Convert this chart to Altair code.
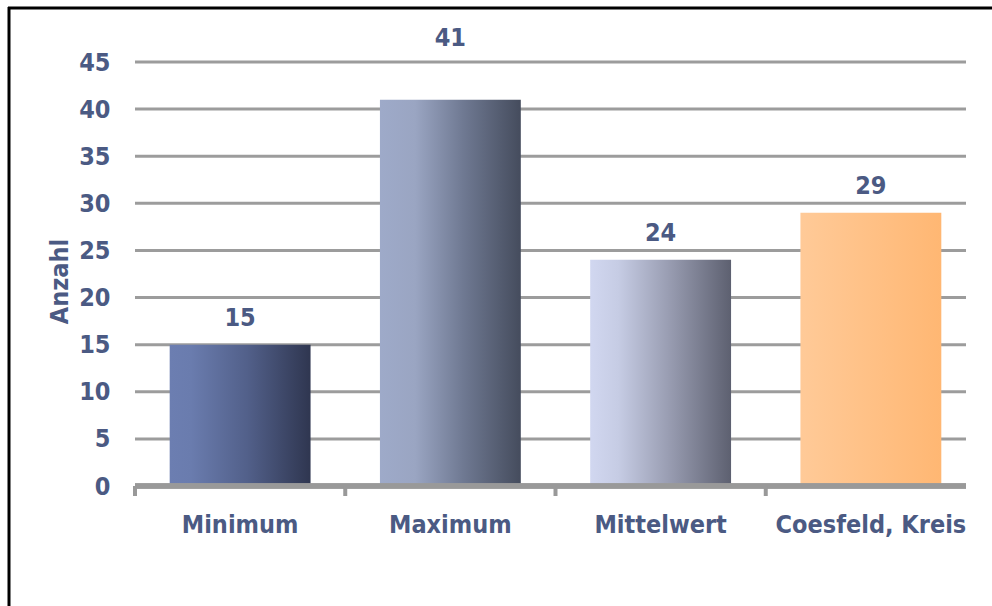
import altair as alt
import pandas as pd

# Chart data
categories = ["Minimum", "Maximum", "Mittelwert", "Coesfeld, Kreis"]
values = [15, 41, 24, 29]
y_ticks = [0, 5, 10, 15, 20, 25, 30, 35, 40, 45]

# Horizontal gradient fill for each bar (left -> right)
bar_stops = {
    "Minimum": [("#6c7eb1", 0.0), ("#6a7cae", 0.15), ("#52608a", 0.55), ("#2f3650", 1.0)],
    "Maximum": [("#9eaac9", 0.0), ("#9aa5c2", 0.25), ("#6e7891", 0.6), ("#454c5d", 1.0)],
    "Mittelwert": [("#d1d7f0", 0.0), ("#c6cce4", 0.2), ("#9a9eb3", 0.55), ("#5d6070", 1.0)],
    "Coesfeld, Kreis": [("#ffca98", 0.0), ("#ffb773", 1.0)],
}

df = pd.DataFrame({"kategorie": categories, "anzahl": values})
grid_df = pd.DataFrame({"anzahl": y_ticks})

TEXT = "#4b5a83"
FONT = "DejaVu Sans Condensed"
FS = 25
PLOT_W, PLOT_H = 831, 424
PAD = {"left": 135, "top": 62, "right": 26, "bottom": 120}

x_scale = alt.Scale(domain=categories, range=[0, 841], paddingInner=0, paddingOuter=0)
y_scale = alt.Scale(domain=[0, 45], nice=False, zero=True)

x_axis = alt.Axis(
    domain=False, ticks=False, grid=False, labelAngle=0, labelLimit=400,
    labelFont=FONT, labelFontSize=FS, labelFontWeight="bold", labelColor=TEXT,
    labelPadding=26, labelBaseline="top",
)
y_axis = alt.Axis(
    values=y_ticks, domain=False, ticks=False, grid=False,
    labelFont=FONT, labelFontSize=FS, labelFontWeight="bold", labelColor=TEXT,
    labelPadding=25,
    title="Anzahl", titleFont=FONT, titleFontSize=FS, titleFontWeight="bold",
    titleColor=TEXT, titleX=-63, titleY=219,
)

x_enc = alt.X("kategorie:N", sort=categories, scale=x_scale, title=None, axis=x_axis)
y_enc = alt.Y("anzahl:Q", scale=y_scale, axis=y_axis)

base = alt.Chart(df)

# Horizontal gridlines across the plot width
grid = alt.Chart(grid_df).mark_rule(color="#9c9c9c", strokeWidth=3).encode(y=y_enc)

# One bar layer per category so each gets its own gradient
bar_layers = []
for cat in categories:
    grad = alt.Gradient(
        gradient="linear",
        stops=[alt.GradientStop(color=c, offset=o) for c, o in bar_stops[cat]],
        x1=0, x2=1, y1=0, y2=0,
    )
    bar_layers.append(
        base.transform_filter(alt.datum.kategorie == cat)
        .mark_bar(color=grad, width=alt.RelativeBandSize(0.67))
        .encode(x=x_enc, y=y_enc)
    )

# Category axis baseline and separator ticks
baseline = base.mark_rule(color="#999999", strokeWidth=5).encode(y=alt.datum(0))
sep_ticks = base.mark_rule(color="#999999", strokeWidth=4).encode(
    x=alt.X("kategorie:N", sort=categories, scale=x_scale, bandPosition=0, title=None, axis=x_axis),
    y=alt.value(PLOT_H),
    y2=alt.value(PLOT_H + 10),
)

label_style = dict(font=FONT, fontSize=FS, fontWeight="bold", color=TEXT, baseline="middle")
value_labels = base.transform_filter(alt.datum.kategorie != "Maximum").mark_text(
    dy=-27, **label_style
).encode(x=x_enc, y=y_enc, text=alt.Text("anzahl:Q"))
max_label = base.transform_filter(alt.datum.kategorie == "Maximum").mark_text(
    dy=-62, **label_style
).encode(x=x_enc, y=y_enc, text=alt.Text("anzahl:Q"))

# Outer frame: top and left edges, kept inside the canvas
frame_src = alt.Chart(pd.DataFrame({"f": [0]}))
frame_top = frame_src.mark_rule(color="black", strokeWidth=3).encode(
    x=alt.value(-127), x2=alt.value(PLOT_W + PAD["right"]), y=alt.value(-54)
)
frame_left = frame_src.mark_rule(color="black", strokeWidth=3).encode(
    x=alt.value(-126), y=alt.value(-55), y2=alt.value(PLOT_H + PAD["bottom"])
)

chart = alt.layer(
    grid, *bar_layers, baseline, sep_ticks, value_labels, max_label, frame_top, frame_left
).properties(
    width=PLOT_W, height=PLOT_H,
    autosize=alt.AutoSizeParams(type="none"),
    padding=PAD,
).configure_view(stroke="transparent")

chart.save("out.html", embed_options={"renderer": "svg", "actions": False})
